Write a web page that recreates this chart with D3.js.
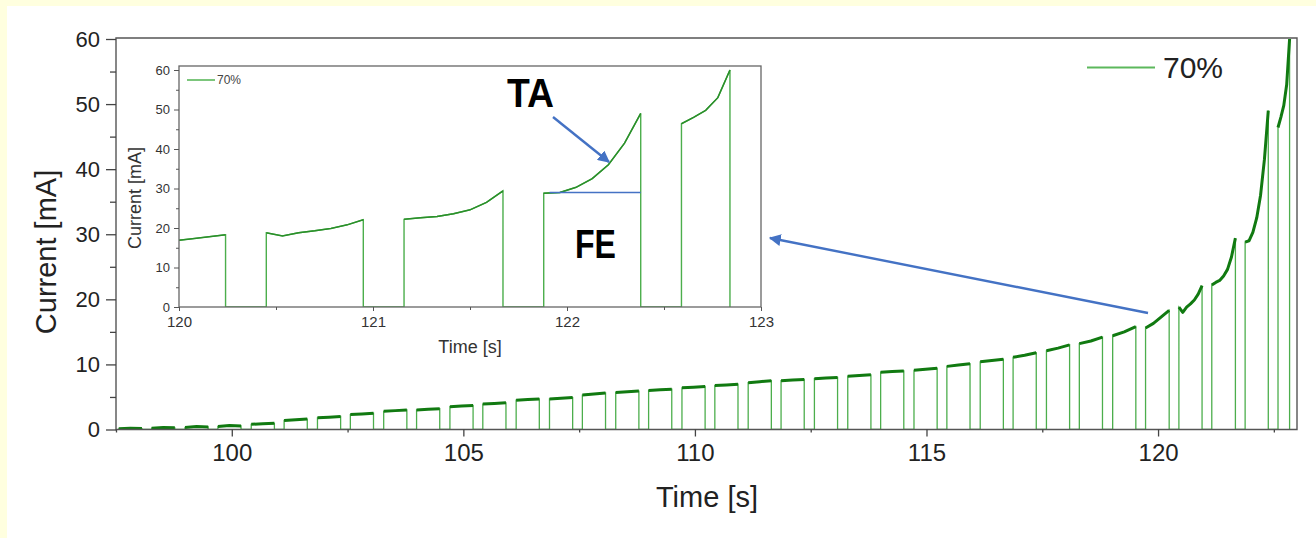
<!DOCTYPE html>
<html>
<head>
<meta charset="utf-8">
<script src="https://cdn.jsdelivr.net/npm/d3@7"></script>
<style>
  body { margin: 0; background: #ffffdf; }
  text { font-family: "Liberation Sans", Arial, sans-serif; }
</style>
</head>
<body>
<div id="container"></div>
<script>
/* DATA */
// each current pulse: start time, end time [s] and current readings [mA] spread across the pulse
const pulseStart = [97.56, 98.27, 98.99, 99.70, 100.42, 101.13, 101.85, 102.56, 103.28, 103.99,
  104.71, 105.42, 106.14, 106.86, 107.57, 108.29, 109.00, 109.72, 110.43, 111.15,
  111.86, 112.58, 113.30, 114.01, 114.73, 115.44, 116.16, 116.87, 117.59, 118.30,
  119.02, 119.73, 120.45, 121.16, 121.88, 122.59];
const pulseEnd = [98.06, 98.77, 99.49, 100.20, 100.92, 101.63, 102.35, 103.06, 103.78, 104.49,
  105.21, 105.92, 106.64, 107.36, 108.07, 108.79, 109.50, 110.22, 110.93, 111.65,
  112.36, 113.08, 113.80, 114.51, 115.23, 115.94, 116.66, 117.37, 118.09, 118.80,
  119.52, 120.24, 120.95, 121.67, 122.38, 122.84];
const pulseLevels = [
  [0.1, 0.2, 0.15], [0.2, 0.3, 0.25], [0.3, 0.45, 0.4], [0.45, 0.6, 0.55],
  [0.8, 0.9, 0.95], [1.4, 1.5, 1.6], [1.8, 1.9, 2.0], [2.3, 2.4, 2.5],
  [2.8, 2.9, 3.0], [3.0, 3.1, 3.2], [3.5, 3.6, 3.7], [3.9, 4.0, 4.1],
  [4.5, 4.6, 4.7], [4.7, 4.8, 4.9], [5.3, 5.45, 5.6], [5.7, 5.8, 5.9],
  [6.0, 6.1, 6.2], [6.4, 6.5, 6.6], [6.75, 6.85, 6.95], [7.2, 7.35, 7.5],
  [7.5, 7.6, 7.7], [7.8, 7.9, 8.0], [8.2, 8.3, 8.4], [8.8, 8.9, 9.0],
  [9.1, 9.25, 9.4], [9.7, 9.9, 10.1], [10.4, 10.6, 10.8], [11.1, 11.4, 11.8],
  [12.1, 12.5, 13.0], [13.2, 13.6, 14.2], [14.4, 15.0, 15.8], [15.6, 16.3, 17.3, 18.3],
  [18.8, 18.0, 18.8, 19.3, 19.9, 20.8, 22.1],
  [22.2, 22.6, 22.9, 23.6, 24.6, 26.5, 29.4],
  [28.8, 29.0, 30.3, 32.5, 36.0, 41.5, 49.0],
  [46.4, 48.0, 49.8, 53.0, 60.0]
];
const seriesName = "70%";

// axis ticks
const mainXTicks = [100, 105, 110, 115, 120];
const mainXMinor = [97.5, 102.5, 107.5, 112.5, 117.5, 122.5];
const yTicks = [0, 10, 20, 30, 40, 50, 60];
const yMinor = [5, 15, 25, 35, 45, 55];
const insetXTicks = [120, 121, 122, 123];
const insetXMinor = [120.5, 121.5, 122.5];

// annotations (data units of the inset)
const feLevel = 29;
const feFrom = 121.91, feTo = 122.38;

/* CONSTANTS */
const width = 1316, height = 538;
const main = {left: 116, right: 1297, top: 39, bottom: 429.5, frameTop: 38};
const inset = {left: 179, right: 761, top: 70, bottom: 307, frameTop: 66};
const lineColor = "#4cae4c", topColor = "#117a11";

// build the trace from the pulses
const trace = [];
const tops = [];
pulseStart.forEach((s, i) => {
  const e = pulseEnd[i], lv = pulseLevels[i];
  const seg = lv.map((v, j) => ({t: s + (e - s) * j / (lv.length - 1), v: v}));
  trace.push({t: s, v: 0}, ...seg, {t: e, v: 0});
  tops.push(seg);
});

const svg = d3.select("#container").append("svg")
  .attr("width", width).attr("height", height);

svg.append("rect").attr("width", width).attr("height", height).attr("fill", "#ffffdf");
svg.append("rect").attr("x", 7).attr("y", 6).attr("width", width - 7).attr("height", height - 6).attr("fill", "#fff");

/* MAIN CHART */
const xScale = d3.scaleLinear().domain([97.5, 123]).range([main.left, main.right]);
const yScale = d3.scaleLinear().domain([0, 60]).range([main.bottom, main.top]);

svg.append("clipPath").attr("id", "mainClip").append("rect")
  .attr("x", main.left).attr("y", main.frameTop - 1)
  .attr("width", main.right - main.left).attr("height", main.bottom - main.frameTop + 1);

const lineMain = d3.line().x(d => xScale(d.t)).y(d => yScale(d.v));

const gm = svg.append("g").attr("clip-path", "url(#mainClip)");
gm.append("path").datum(trace)
  .attr("fill", "none").attr("stroke", lineColor).attr("stroke-width", 1.3)
  .attr("d", lineMain);
gm.selectAll("path.top").data(tops).join("path")
  .attr("class", "top")
  .attr("fill", "none").attr("stroke", topColor).attr("stroke-width", 3)
  .attr("stroke-linejoin", "round")
  .attr("d", lineMain);

// frame
svg.append("path")
  .attr("d", `M${main.left},${main.bottom}V${main.frameTop}H${main.right}V${main.bottom}Z`)
  .attr("fill", "none").attr("stroke", "#555").attr("stroke-width", 1.4);

// axes
const yAxis = svg.append("g").attr("transform", `translate(${main.left},0)`)
  .call(d3.axisLeft(yScale).tickValues(yTicks).tickSize(10).tickPadding(6).tickSizeOuter(0));
svg.append("g").attr("transform", `translate(${main.left},0)`)
  .call(d3.axisLeft(yScale).tickValues(yMinor).tickSize(6).tickFormat("").tickSizeOuter(0));
const xAxis = svg.append("g").attr("transform", `translate(0,${main.bottom})`)
  .call(d3.axisBottom(xScale).tickValues(mainXTicks).tickSize(7).tickPadding(7.5).tickSizeOuter(0));
svg.append("g").attr("transform", `translate(0,${main.bottom})`)
  .call(d3.axisBottom(xScale).tickValues(mainXMinor).tickSize(3).tickFormat("").tickSizeOuter(0));
svg.selectAll(".domain").remove();
svg.selectAll(".tick line").attr("stroke", "#444").attr("stroke-width", 1.3);
yAxis.selectAll("text").style("font-size", "22px").attr("fill", "#222");
xAxis.selectAll("text").style("font-size", "24px").attr("fill", "#222");

svg.append("text")
  .attr("transform", "translate(56,252) rotate(-90)")
  .attr("text-anchor", "middle").style("font-size", "29px").attr("fill", "#222")
  .text("Current [mA]");
svg.append("text")
  .attr("x", 707).attr("y", 507)
  .attr("text-anchor", "middle").style("font-size", "29px").attr("fill", "#222")
  .text("Time [s]");

// legend
svg.append("line").attr("x1", 1087).attr("x2", 1155).attr("y1", 67.5).attr("y2", 67.5)
  .attr("stroke", "#5cb85c").attr("stroke-width", 2);
svg.append("text").attr("x", 1163).attr("y", 78)
  .style("font-size", "30px").attr("fill", "#222").text(seriesName);

/* INSET */
const xIn = d3.scaleLinear().domain([120, 123]).range([inset.left, inset.right]);
const yIn = d3.scaleLinear().domain([0, 60]).range([inset.bottom, inset.top]);

svg.append("rect").attr("x", inset.left).attr("y", inset.frameTop)
  .attr("width", inset.right - inset.left).attr("height", inset.bottom - inset.frameTop)
  .attr("fill", "#fff");

svg.append("clipPath").attr("id", "insetClip").append("rect")
  .attr("x", inset.left).attr("y", inset.frameTop)
  .attr("width", inset.right - inset.left).attr("height", inset.bottom - inset.frameTop);

const lineIn = d3.line().x(d => xIn(d.t)).y(d => yIn(d.v));
const gi = svg.append("g").attr("clip-path", "url(#insetClip)");
gi.append("path").datum(trace)
  .attr("fill", "none").attr("stroke", lineColor).attr("stroke-width", 1.4)
  .attr("d", lineIn);
gi.selectAll("path.top").data(tops).join("path")
  .attr("class", "top")
  .attr("fill", "none").attr("stroke", "#2a8f2a").attr("stroke-width", 1.5)
  .attr("d", lineIn);

svg.append("rect").attr("x", inset.left).attr("y", inset.frameTop)
  .attr("width", inset.right - inset.left).attr("height", inset.bottom - inset.frameTop)
  .attr("fill", "none").attr("stroke", "#666").attr("stroke-width", 1.3);

const yAxisIn = svg.append("g").attr("class", "inax").attr("transform", `translate(${inset.left},0)`)
  .call(d3.axisLeft(yIn).tickValues(yTicks).tickSize(5).tickPadding(4).tickSizeOuter(0));
svg.append("g").attr("class", "inax").attr("transform", `translate(${inset.left},0)`)
  .call(d3.axisLeft(yIn).tickValues(yMinor).tickSize(3).tickFormat("").tickSizeOuter(0));
const xAxisIn = svg.append("g").attr("class", "inax").attr("transform", `translate(0,${inset.bottom})`)
  .call(d3.axisBottom(xIn).tickValues(insetXTicks).tickFormat(d3.format("d"))
    .tickSize(4).tickPadding(5).tickSizeOuter(0));
svg.append("g").attr("class", "inax").attr("transform", `translate(0,${inset.bottom})`)
  .call(d3.axisBottom(xIn).tickValues(insetXMinor).tickSize(3).tickFormat("").tickSizeOuter(0));
svg.selectAll(".inax .domain").remove();
svg.selectAll(".inax .tick line").attr("stroke", "#555").attr("stroke-width", 1);
yAxisIn.selectAll("text").style("font-size", "13px").attr("fill", "#333");
xAxisIn.selectAll("text").style("font-size", "15px").attr("fill", "#333");

svg.append("text")
  .attr("transform", "translate(141,198) rotate(-90)")
  .attr("text-anchor", "middle").style("font-size", "18px").attr("fill", "#333")
  .text("Current [mA]");
svg.append("text")
  .attr("x", 470).attr("y", 353)
  .attr("text-anchor", "middle").style("font-size", "18px").attr("fill", "#333")
  .text("Time [s]");

svg.append("line").attr("x1", 187).attr("x2", 215).attr("y1", 80).attr("y2", 80)
  .attr("stroke", "#5cb85c").attr("stroke-width", 1.6);
svg.append("text").attr("x", 217).attr("y", 84)
  .style("font-size", "12px").attr("fill", "#444").text(seriesName);

/* ANNOTATIONS */
const blue = "#4472c4";
svg.append("defs").append("marker")
  .attr("id", "head").attr("viewBox", "0 0 10 10").attr("refX", 9).attr("refY", 5)
  .attr("markerWidth", 5).attr("markerHeight", 5).attr("orient", "auto")
  .append("path").attr("d", "M0,0L10,5L0,10Z").attr("fill", blue);

svg.append("line")
  .attr("x1", xIn(feFrom)).attr("x2", xIn(feTo)).attr("y1", yIn(feLevel)).attr("y2", yIn(feLevel))
  .attr("stroke", blue).attr("stroke-width", 1.6);

svg.append("line").attr("x1", 553).attr("y1", 117).attr("x2", 609).attr("y2", 162)
  .attr("stroke", blue).attr("stroke-width", 2.4).attr("marker-end", "url(#head)");
svg.append("line").attr("x1", 1148).attr("y1", 313).attr("x2", 770).attr("y2", 238)
  .attr("stroke", blue).attr("stroke-width", 2.4).attr("marker-end", "url(#head)");

svg.append("text").attr("x", 507).attr("y", 107)
  .style("font-size", "40px").style("font-weight", "bold").attr("fill", "#000")
  .attr("textLength", 47).attr("lengthAdjust", "spacingAndGlyphs").text("TA");
svg.append("text").attr("x", 575).attr("y", 258)
  .style("font-size", "40px").style("font-weight", "bold").attr("fill", "#000")
  .attr("textLength", 41).attr("lengthAdjust", "spacingAndGlyphs").text("FE");
</script>
</body>
</html>
